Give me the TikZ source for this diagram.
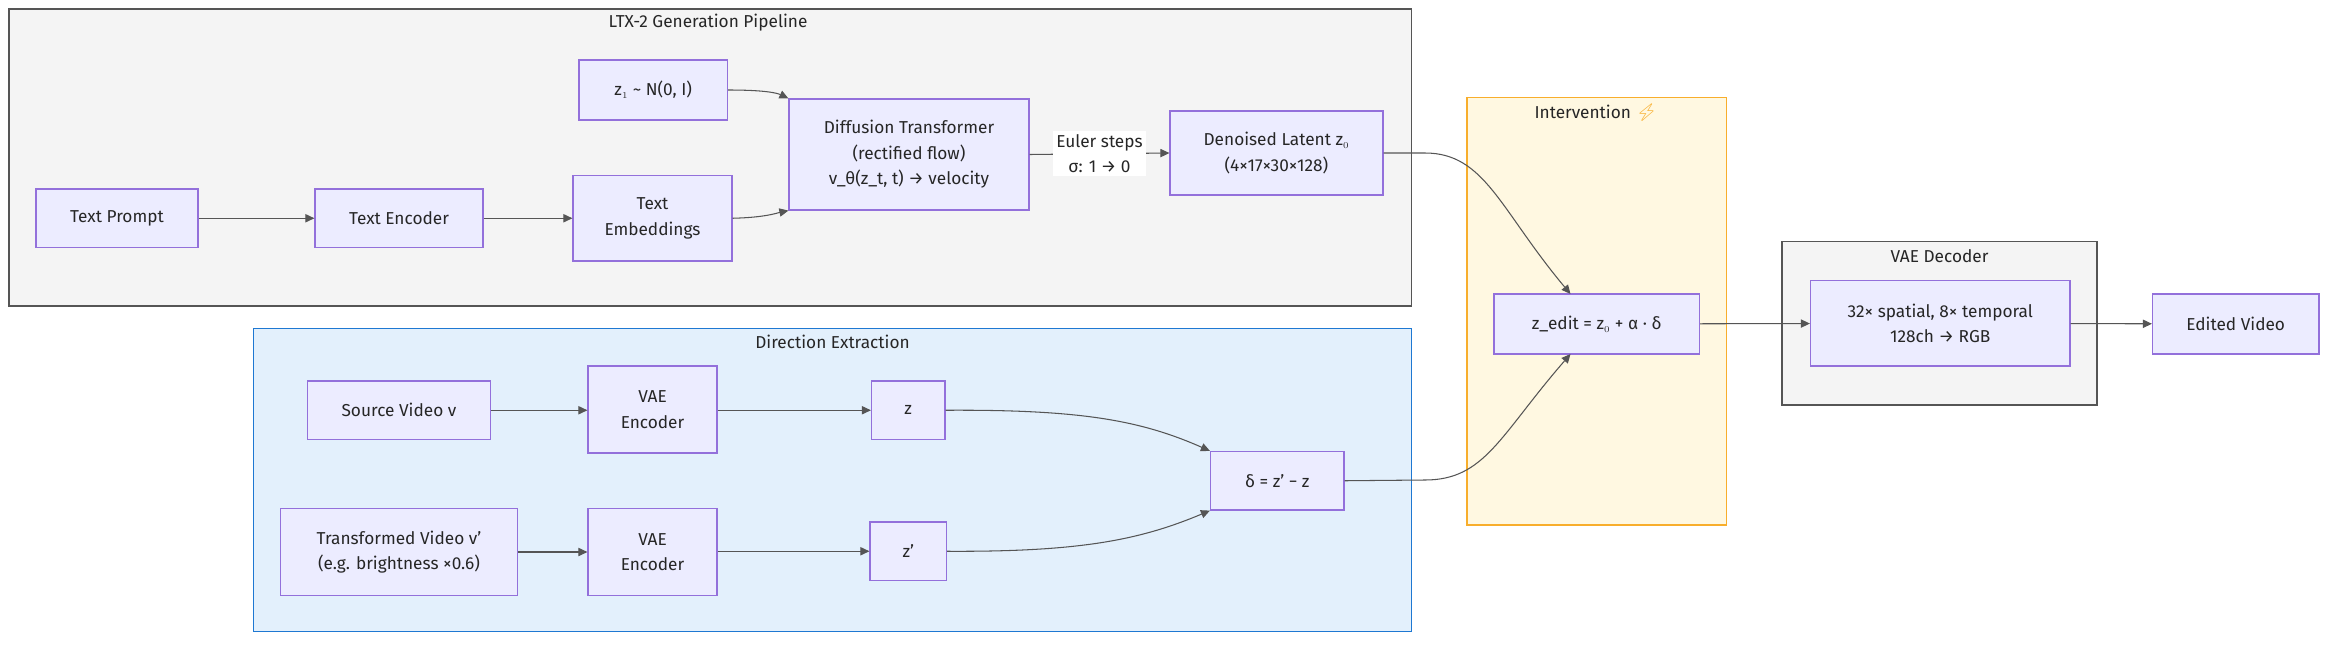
\documentclass[tikz,border=0pt]{standalone}
\usepackage{fontspec}
\setmainfont{Fira Sans}
\newfontfamily\emo{Noto Emoji}
\usetikzlibrary{arrows.meta}
\definecolor{nfill}{HTML}{ECECFF}
\definecolor{nline}{HTML}{9370DB}
\definecolor{edge}{HTML}{555555}
\definecolor{gfill}{HTML}{F4F4F4}
\definecolor{gline}{HTML}{555555}
\definecolor{bfill}{HTML}{E3F0FC}
\definecolor{bline}{HTML}{1E78D2}
\definecolor{yfill}{HTML}{FFF8E1}
\definecolor{yline}{HTML}{F8AE2C}
\newcommand{\bx}[6]{\node[nbox,minimum width=#4-#2,minimum height=#5-#3] (#1) at ({(#2+#4)/2},{(#3+#5)/2}) {#6};}
\begin{document}
\begin{tikzpicture}[x=1pt,y=-1pt,
  nbox/.style={draw=nline,fill=nfill,line width=0.8pt,inner sep=0pt,align=center,font=\fontsize{11.5}{17}\selectfont,text=black!85},
  grp/.style={line width=1.2pt},
  ttl/.style={font=\fontsize{11.5}{14}\selectfont,text=black!85},
  arr/.style={draw=edge,line width=0.7pt,-{Triangle[length=6pt,width=5.5pt]}}]
\useasboundingbox (0,0) rectangle (1568,434);
\fill[white] (0,0) rectangle (1568,434);
% groups
\draw[grp,draw=gline,fill=gfill] (6,6) rectangle (941,204);
\node[ttl] (t1) at (472,15) {LTX-2 Generation Pipeline};
\draw[grp,draw=bline,fill=bfill] (169,219) rectangle (941,421);
\node[ttl] (t2) at (555,228) {Direction Extraction};
\draw[grp,draw=yline,fill=yfill] (978,65) rectangle (1151,350);
\node[ttl] (t3) at (1064,75) {Intervention {\emo\color{yline}⚡}};
\draw[grp,draw=gline,fill=gfill] (1188,161) rectangle (1398,270);
\node[ttl] (t4) at (1293,171) {VAE Decoder};
% nodes
\bx{tp}{24}{126}{132}{165}{Text Prompt}
\bx{te}{210}{126}{322}{165}{Text Encoder}
\bx{emb}{382}{117}{488}{174}{Text\\Embeddings}
\bx{z1}{386}{40}{485}{80}{z$_{\scriptscriptstyle 1}$ \textasciitilde{} N(0, I)}
\bx{dit}{526}{66}{686}{140}{Diffusion Transformer\\(rectified flow)\\v\_θ(z\_t, t) → velocity}
\bx{den}{780}{74}{922}{130}{Denoised Latent z$_{\scriptscriptstyle 0}$\\(4×17×30×128)}
\bx{ze}{996}{196}{1133}{236}{z\_edit = z$_{\scriptscriptstyle 0}$ + α · δ}
\bx{dec}{1207}{187}{1380}{244}{32× spatial, 8× temporal\\128ch → RGB}
\bx{ev}{1435}{196}{1546}{236}{Edited Video}
\bx{sv}{205}{254}{327}{293}{Source Video v}
\bx{ve1}{392}{244}{478}{302}{VAE\\Encoder}
\bx{z}{581}{254}{630}{293}{z}
\bx{tv}{187}{339}{345}{397}{Transformed Video v'\\(e.g. brightness ×0.6)}
\bx{ve2}{392}{339}{478}{397}{VAE\\Encoder}
\bx{zp}{580}{348}{631}{387}{z'}
\bx{dl}{807}{301}{896}{340}{δ = z' − z}
% edges
\draw[arr] (tp) -- (te);
\draw[arr] (te.east) -- (emb.west|-te.east);
\draw[arr] (z1.east) .. controls (510,60) and (518,62) .. (dit.north west);
\draw[arr] (emb.east) .. controls (510,145) and (518,142) .. (dit.south west);
\draw[arr] (dit.east) -- (den.west) node[midway,fill=white,inner sep=2pt,align=center,font=\fontsize{11.5}{17}\selectfont,text=black!85] (eu) {Euler steps\\σ: 1 → 0};
\draw[arr] (den.east) -- (950,102) .. controls (990,102) and (1000,140) .. (1047,196);
\draw[arr] (dl.east) -- (950,320) .. controls (990,320) and (1000,290) .. (1047,236);
\draw[arr] (ze) -- (dec);
\draw[arr] (dec) -- (ev);
\draw[arr] (sv) -- (sv.east-|ve1.west);
\draw[arr] (ve1.east|-z) -- (z);
\draw[arr] (tv) -- (tv.east-|ve2.west);
\draw[arr] (ve2.east|-zp) -- (zp);
\draw[arr] (z.east) .. controls (720,273) and (760,280) .. (dl.north west);
\draw[arr] (zp.east) .. controls (720,368) and (760,360) .. (dl.south west);
\end{tikzpicture}
\end{document}
